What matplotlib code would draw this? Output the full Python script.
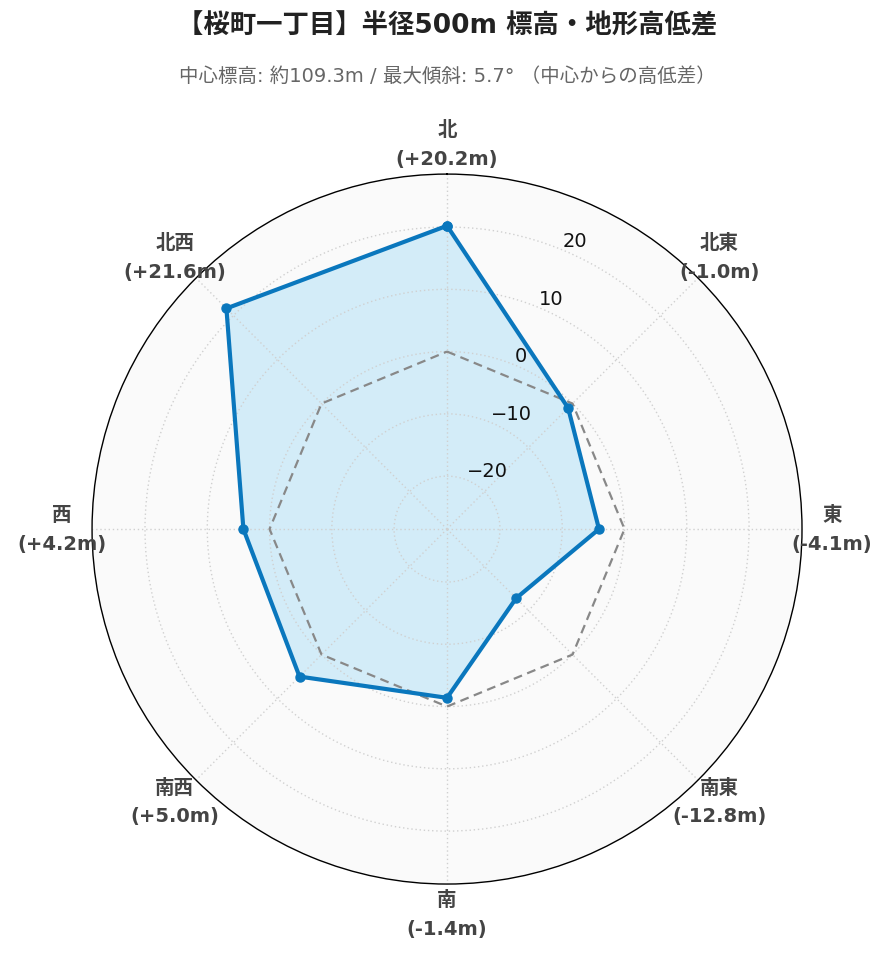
import numpy as np
import matplotlib
matplotlib.use('Agg')
import matplotlib.pyplot as plt

plt.rcParams['font.family'] = ['DejaVu Sans', 'Noto Sans CJK JP']

directions = ['北', '北東', '東', '南東', '南', '南西', '西', '北西']
diffs = [20.2, -1.0, -4.1, -12.8, -1.4, 5.0, 4.2, 21.6]
baseline = [0, 0, 0, 0, 0, 0, 0, 0]
r_ticks = [-20, -10, 0, 10, 20]
r_range = (-28.5, 28.5)

title = '【桜町一丁目】半径500m 標高・地形高低差'
subtitle = '中心標高: 約109.3m / 最大傾斜: 5.7° （中心からの高低差）'

fig = plt.figure(figsize=(8.89, 9.62), dpi=100)
ax = fig.add_axes([0.1035, 0.080, 0.7987, 0.738], projection='polar')
ax.set_theta_zero_location('N')
ax.set_theta_direction(-1)
ax.set_facecolor('#fafafa')
ax.set_axisbelow(False)

theta = np.deg2rad(np.arange(len(directions)) * 45.0)
th = np.append(theta, theta[0])
vals = np.append(diffs, diffs[0])
base = np.append(baseline, baseline[0])

ax.fill(th, vals, color='#d3ecf8', zorder=1)
ax.plot(th, base, color='#888888', lw=1.6, ls=(0, (4, 2.5)), zorder=3)
ax.plot(th, vals, color='#0a77bd', lw=3, marker='o', ms=6.5, zorder=4)

ax.set_ylim(*r_range)
ax.set_yticks(r_ticks)
ax.set_yticklabels(['\u2212' + str(-t) if t < 0 else str(t) for t in r_ticks],
                   fontsize=14, color='#111111')
ax.set_rlabel_position(22.5)
ax.set_xticks(theta)
ax.set_xticklabels([])
ax.grid(True, color='#d0d0d0', ls=(0, (1, 2)), lw=1)
ax.spines['polar'].set_color('black')
ax.spines['polar'].set_linewidth(1)
ax.spines['polar'].set_zorder(5)

r_lab = r_range[0] + (r_range[1] - r_range[0]) * 1.085
for t, d, v in zip(theta, directions, diffs):
    ax.text(t, r_lab, f'{d}\n({v:+.1f}m)', ha='center', va='center',
            fontsize=14, fontweight='bold', color='#444444',
            linespacing=1.65, clip_on=False, zorder=6)

fig.text(0.503, 0.972, title, ha='center', va='center', fontsize=19,
         fontweight='bold', color='#222222')
fig.text(0.503, 0.921, subtitle, ha='center', va='center', fontsize=14,
         color='#666666')

fig.savefig('out.png', dpi=100)
